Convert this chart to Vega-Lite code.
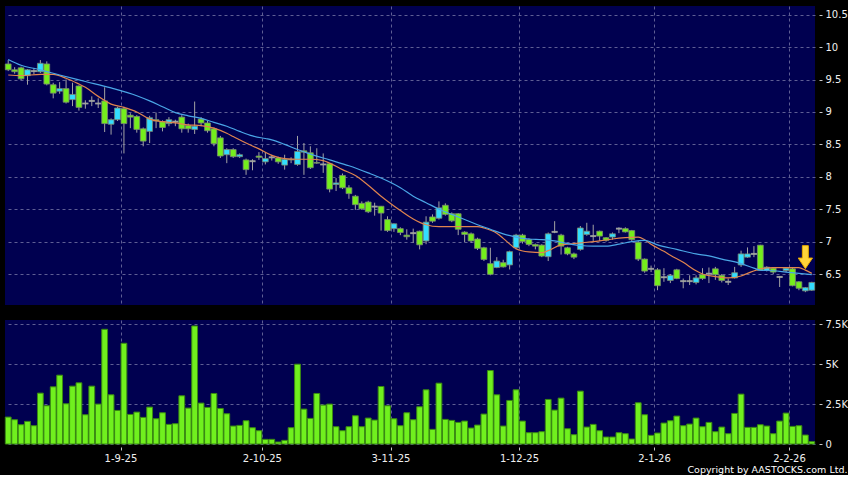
{
"$schema":"https://vega.github.io/schema/vega-lite/v6.json",
"background":"#000000",
"padding":{"left":4,"top":6,"right":0,"bottom":0},
"spacing":14,
"title":{"text":"Copyright by AASTOCKS.com Ltd.","orient":"bottom","anchor":"end","frame":"bounds","font":"DejaVu Sans","fontSize":9.5,"fontWeight":"normal","color":"#ffffff","offset":2},
"datasets":{
"k":[
{"d":"2025-08-06","o":9.74,"h":9.80,"l":9.63,"c":9.65,"v":1687},
{"d":"2025-08-07","o":9.65,"h":9.69,"l":9.59,"c":9.62,"v":1521},
{"d":"2025-08-08","o":9.68,"h":9.70,"l":9.49,"c":9.51,"v":1208},
{"d":"2025-08-11","o":9.56,"h":9.66,"l":9.42,"c":9.65,"v":1417},
{"d":"2025-08-12","o":9.63,"h":9.68,"l":9.58,"c":9.63,"v":1146},
{"d":"2025-08-13","o":9.62,"h":9.80,"l":9.60,"c":9.75,"v":3187},
{"d":"2025-08-14","o":9.74,"h":9.78,"l":9.41,"c":9.43,"v":2396},
{"d":"2025-08-15","o":9.42,"h":9.45,"l":9.21,"c":9.29,"v":3583},
{"d":"2025-08-18","o":9.32,"h":9.46,"l":9.28,"c":9.36,"v":4312},
{"d":"2025-08-19","o":9.36,"h":9.50,"l":9.13,"c":9.15,"v":2521},
{"d":"2025-08-20","o":9.19,"h":9.45,"l":9.09,"c":9.27,"v":3625},
{"d":"2025-08-21","o":9.40,"h":9.41,"l":9.02,"c":9.07,"v":3833},
{"d":"2025-08-22","o":9.13,"h":9.18,"l":9.05,"c":9.13,"v":1833},
{"d":"2025-08-25","o":9.17,"h":9.24,"l":9.09,"c":9.17,"v":3625},
{"d":"2025-08-26","o":9.13,"h":9.21,"l":9.06,"c":9.13,"v":2500},
{"d":"2025-08-27","o":9.17,"h":9.38,"l":8.69,"c":8.82,"v":7187},
{"d":"2025-08-28","o":8.81,"h":8.90,"l":8.65,"c":8.88,"v":3083},
{"d":"2025-08-29","o":8.88,"h":9.08,"l":8.86,"c":9.06,"v":2104},
{"d":"2025-09-01","o":9.05,"h":9.08,"l":8.36,"c":8.82,"v":6312},
{"d":"2025-09-02","o":8.95,"h":8.98,"l":8.75,"c":8.92,"v":1854},
{"d":"2025-09-03","o":8.93,"h":8.95,"l":8.68,"c":8.73,"v":2000},
{"d":"2025-09-04","o":8.74,"h":8.76,"l":8.47,"c":8.55,"v":1667},
{"d":"2025-09-05","o":8.70,"h":8.94,"l":8.52,"c":8.91,"v":2312},
{"d":"2025-09-08","o":8.88,"h":8.99,"l":8.75,"c":8.86,"v":1583},
{"d":"2025-09-09","o":8.85,"h":8.87,"l":8.70,"c":8.76,"v":1958},
{"d":"2025-09-10","o":8.82,"h":8.92,"l":8.78,"c":8.88,"v":1229},
{"d":"2025-09-11","o":8.85,"h":8.88,"l":8.78,"c":8.85,"v":1271},
{"d":"2025-09-12","o":8.92,"h":8.95,"l":8.68,"c":8.74,"v":3021},
{"d":"2025-09-15","o":8.79,"h":8.82,"l":8.68,"c":8.74,"v":2250},
{"d":"2025-09-16","o":8.73,"h":9.16,"l":8.66,"c":8.78,"v":7396},
{"d":"2025-09-17","o":8.89,"h":8.92,"l":8.78,"c":8.83,"v":2562},
{"d":"2025-09-18","o":8.83,"h":8.86,"l":8.68,"c":8.71,"v":2292},
{"d":"2025-09-19","o":8.74,"h":8.76,"l":8.47,"c":8.51,"v":3167},
{"d":"2025-09-22","o":8.60,"h":8.63,"l":8.29,"c":8.32,"v":2229},
{"d":"2025-09-23","o":8.34,"h":8.44,"l":8.21,"c":8.42,"v":1896},
{"d":"2025-09-24","o":8.42,"h":8.44,"l":8.29,"c":8.31,"v":1125},
{"d":"2025-09-25","o":8.31,"h":8.36,"l":8.29,"c":8.34,"v":1167},
{"d":"2025-09-26","o":8.26,"h":8.28,"l":8.03,"c":8.11,"v":1458},
{"d":"2025-09-29","o":8.24,"h":8.27,"l":8.10,"c":8.24,"v":1021},
{"d":"2025-09-30","o":8.32,"h":8.38,"l":8.26,"c":8.30,"v":833},
{"d":"2025-10-02","o":8.23,"h":8.38,"l":8.19,"c":8.28,"v":292},
{"d":"2025-10-03","o":8.30,"h":8.34,"l":8.25,"c":8.30,"v":292},
{"d":"2025-10-06","o":8.29,"h":8.31,"l":8.20,"c":8.23,"v":125},
{"d":"2025-10-08","o":8.18,"h":8.34,"l":8.11,"c":8.27,"v":229},
{"d":"2025-10-09","o":8.27,"h":8.30,"l":8.21,"c":8.26,"v":1021},
{"d":"2025-10-10","o":8.19,"h":8.63,"l":8.17,"c":8.39,"v":5000},
{"d":"2025-10-13","o":8.40,"h":8.52,"l":8.03,"c":8.38,"v":2187},
{"d":"2025-10-14","o":8.37,"h":8.47,"l":8.12,"c":8.14,"v":1604},
{"d":"2025-10-15","o":8.22,"h":8.44,"l":8.20,"c":8.21,"v":3167},
{"d":"2025-10-16","o":8.19,"h":8.36,"l":8.06,"c":8.19,"v":2437},
{"d":"2025-10-17","o":8.20,"h":8.21,"l":7.76,"c":7.81,"v":2500},
{"d":"2025-10-20","o":7.88,"h":7.98,"l":7.78,"c":7.905,"v":1083},
{"d":"2025-10-21","o":8.02,"h":8.05,"l":7.81,"c":7.83,"v":833},
{"d":"2025-10-22","o":7.83,"h":7.87,"l":7.66,"c":7.74,"v":1083},
{"d":"2025-10-23","o":7.70,"h":7.72,"l":7.49,"c":7.57,"v":1771},
{"d":"2025-10-24","o":7.59,"h":7.62,"l":7.49,"c":7.505,"v":1083},
{"d":"2025-10-27","o":7.61,"h":7.63,"l":7.44,"c":7.46,"v":1625},
{"d":"2025-10-28","o":7.54,"h":7.60,"l":7.40,"c":7.54,"v":1500},
{"d":"2025-10-30","o":7.545,"h":7.55,"l":7.17,"c":7.44,"v":3604},
{"d":"2025-10-31","o":7.34,"h":7.39,"l":7.15,"c":7.17,"v":2396},
{"d":"2025-11-03","o":7.20,"h":7.28,"l":7.15,"c":7.275,"v":1583},
{"d":"2025-11-04","o":7.20,"h":7.22,"l":7.10,"c":7.14,"v":1146},
{"d":"2025-11-05","o":7.10,"h":7.19,"l":7.03,"c":7.075,"v":1958},
{"d":"2025-11-06","o":7.13,"h":7.20,"l":6.98,"c":7.13,"v":1521},
{"d":"2025-11-07","o":7.16,"h":7.17,"l":6.88,"c":6.95,"v":2333},
{"d":"2025-11-10","o":7.01,"h":7.39,"l":6.96,"c":7.30,"v":3396},
{"d":"2025-11-11","o":7.38,"h":7.42,"l":7.29,"c":7.315,"v":917},
{"d":"2025-11-12","o":7.36,"h":7.62,"l":7.34,"c":7.52,"v":3812},
{"d":"2025-11-13","o":7.56,"h":7.59,"l":7.40,"c":7.42,"v":1542},
{"d":"2025-11-14","o":7.43,"h":7.45,"l":7.30,"c":7.32,"v":1479},
{"d":"2025-11-17","o":7.43,"h":7.44,"l":7.10,"c":7.19,"v":1354},
{"d":"2025-11-18","o":7.146,"h":7.16,"l":6.99,"c":7.11,"v":1437},
{"d":"2025-11-19","o":7.12,"h":7.14,"l":6.98,"c":7.01,"v":1000},
{"d":"2025-11-20","o":7.04,"h":7.06,"l":6.87,"c":6.895,"v":1187},
{"d":"2025-11-21","o":6.905,"h":6.92,"l":6.70,"c":6.725,"v":1875},
{"d":"2025-11-24","o":6.66,"h":6.905,"l":6.48,"c":6.495,"v":4604},
{"d":"2025-11-25","o":6.60,"h":6.76,"l":6.59,"c":6.70,"v":3083},
{"d":"2025-11-26","o":6.675,"h":6.72,"l":6.60,"c":6.61,"v":1125},
{"d":"2025-11-27","o":6.64,"h":6.86,"l":6.57,"c":6.845,"v":2729},
{"d":"2025-11-28","o":6.905,"h":7.12,"l":6.88,"c":7.10,"v":3396},
{"d":"2025-12-01","o":7.10,"h":7.12,"l":6.97,"c":7.00,"v":1437},
{"d":"2025-12-02","o":7.033,"h":7.05,"l":6.93,"c":6.956,"v":708},
{"d":"2025-12-03","o":6.956,"h":6.97,"l":6.88,"c":6.93,"v":708},
{"d":"2025-12-04","o":6.946,"h":6.96,"l":6.76,"c":6.777,"v":771},
{"d":"2025-12-05","o":6.767,"h":7.14,"l":6.70,"c":7.12,"v":2792},
{"d":"2025-12-08","o":7.15,"h":7.315,"l":7.13,"c":7.15,"v":2125},
{"d":"2025-12-09","o":7.10,"h":7.12,"l":6.80,"c":6.93,"v":2875},
{"d":"2025-12-10","o":6.905,"h":6.92,"l":6.79,"c":6.81,"v":958},
{"d":"2025-12-11","o":6.81,"h":6.83,"l":6.73,"c":6.76,"v":583},
{"d":"2025-12-12","o":6.88,"h":7.24,"l":6.86,"c":7.21,"v":3312},
{"d":"2025-12-15","o":7.11,"h":7.29,"l":7.09,"c":7.16,"v":1062},
{"d":"2025-12-16","o":7.085,"h":7.26,"l":7.01,"c":7.085,"v":1229},
{"d":"2025-12-17","o":7.16,"h":7.17,"l":7.01,"c":7.085,"v":833},
{"d":"2025-12-18","o":7.06,"h":7.07,"l":7.00,"c":7.02,"v":437},
{"d":"2025-12-19","o":7.07,"h":7.14,"l":7.03,"c":7.12,"v":437},
{"d":"2025-12-22","o":7.20,"h":7.22,"l":7.13,"c":7.20,"v":708},
{"d":"2025-12-23","o":7.20,"h":7.22,"l":7.14,"c":7.15,"v":646},
{"d":"2025-12-24","o":7.17,"h":7.18,"l":7.00,"c":7.03,"v":312},
{"d":"2025-12-29","o":6.99,"h":7.01,"l":6.70,"c":6.73,"v":2583},
{"d":"2025-12-30","o":6.73,"h":6.74,"l":6.52,"c":6.545,"v":1833},
{"d":"2025-12-31","o":6.58,"h":6.63,"l":6.53,"c":6.58,"v":542},
{"d":"2026-01-02","o":6.565,"h":6.59,"l":6.25,"c":6.32,"v":687},
{"d":"2026-01-05","o":6.45,"h":6.59,"l":6.38,"c":6.45,"v":1312},
{"d":"2026-01-06","o":6.40,"h":6.50,"l":6.36,"c":6.48,"v":1458},
{"d":"2026-01-07","o":6.565,"h":6.58,"l":6.42,"c":6.43,"v":1750},
{"d":"2026-01-08","o":6.39,"h":6.43,"l":6.28,"c":6.39,"v":1146},
{"d":"2026-01-09","o":6.39,"h":6.48,"l":6.33,"c":6.39,"v":1250},
{"d":"2026-01-12","o":6.37,"h":6.48,"l":6.34,"c":6.44,"v":1625},
{"d":"2026-01-13","o":6.49,"h":6.59,"l":6.41,"c":6.43,"v":1083},
{"d":"2026-01-14","o":6.505,"h":6.60,"l":6.36,"c":6.505,"v":1354},
{"d":"2026-01-15","o":6.58,"h":6.61,"l":6.41,"c":6.49,"v":771},
{"d":"2026-01-16","o":6.48,"h":6.50,"l":6.37,"c":6.40,"v":1062},
{"d":"2026-01-19","o":6.38,"h":6.43,"l":6.33,"c":6.38,"v":646},
{"d":"2026-01-20","o":6.44,"h":6.61,"l":6.43,"c":6.52,"v":1917},
{"d":"2026-01-21","o":6.64,"h":6.86,"l":6.61,"c":6.81,"v":3125},
{"d":"2026-01-22","o":6.76,"h":6.91,"l":6.75,"c":6.81,"v":1042},
{"d":"2026-01-23","o":6.81,"h":6.93,"l":6.76,"c":6.81,"v":1042},
{"d":"2026-01-26","o":6.945,"h":6.95,"l":6.55,"c":6.555,"v":1208},
{"d":"2026-01-27","o":6.555,"h":6.62,"l":6.54,"c":6.605,"v":1125},
{"d":"2026-01-28","o":6.59,"h":6.60,"l":6.50,"c":6.53,"v":646},
{"d":"2026-01-29","o":6.455,"h":6.47,"l":6.30,"c":6.455,"v":1437},
{"d":"2026-01-30","o":6.555,"h":6.60,"l":6.53,"c":6.59,"v":1937},
{"d":"2026-02-02","o":6.58,"h":6.60,"l":6.31,"c":6.32,"v":1104},
{"d":"2026-02-03","o":6.38,"h":6.39,"l":6.25,"c":6.28,"v":1146},
{"d":"2026-02-04","o":6.24,"h":6.30,"l":6.22,"c":6.29,"v":562},
{"d":"2026-02-05","o":6.25,"h":6.38,"l":6.24,"c":6.37,"v":146}
],
"ma":[
{"d":"2025-08-06","s":"ma10","p":9.57},{"d":"2025-08-08","s":"ma10","p":9.56},{"d":"2025-08-13","s":"ma10","p":9.58},{"d":"2025-08-15","s":"ma10","p":9.58},{"d":"2025-08-19","s":"ma10","p":9.52},{"d":"2025-08-21","s":"ma10","p":9.43},{"d":"2025-08-22","s":"ma10","p":9.38},{"d":"2025-08-26","s":"ma10","p":9.24},{"d":"2025-08-28","s":"ma10","p":9.12},{"d":"2025-09-01","s":"ma10","p":9.07},{"d":"2025-09-03","s":"ma10","p":9.00},{"d":"2025-09-05","s":"ma10","p":8.89},{"d":"2025-09-09","s":"ma10","p":8.85},{"d":"2025-09-11","s":"ma10","p":8.83},{"d":"2025-09-15","s":"ma10","p":8.80},{"d":"2025-09-17","s":"ma10","p":8.79},{"d":"2025-09-19","s":"ma10","p":8.75},{"d":"2025-09-23","s":"ma10","p":8.67},{"d":"2025-09-24","s":"ma10","p":8.62},{"d":"2025-09-26","s":"ma10","p":8.52},{"d":"2025-09-30","s":"ma10","p":8.43},{"d":"2025-10-03","s":"ma10","p":8.33},{"d":"2025-10-08","s":"ma10","p":8.28},{"d":"2025-10-10","s":"ma10","p":8.27},{"d":"2025-10-14","s":"ma10","p":8.27},{"d":"2025-10-16","s":"ma10","p":8.25},{"d":"2025-10-17","s":"ma10","p":8.21},{"d":"2025-10-21","s":"ma10","p":8.11},{"d":"2025-10-23","s":"ma10","p":8.02},{"d":"2025-10-27","s":"ma10","p":7.87},{"d":"2025-10-30","s":"ma10","p":7.70},{"d":"2025-11-03","s":"ma10","p":7.55},{"d":"2025-11-04","s":"ma10","p":7.48},{"d":"2025-11-06","s":"ma10","p":7.35},{"d":"2025-11-10","s":"ma10","p":7.26},{"d":"2025-11-12","s":"ma10","p":7.23},{"d":"2025-11-14","s":"ma10","p":7.23},{"d":"2025-11-18","s":"ma10","p":7.23},{"d":"2025-11-20","s":"ma10","p":7.23},{"d":"2025-11-21","s":"ma10","p":7.21},{"d":"2025-11-25","s":"ma10","p":7.13},{"d":"2025-11-26","s":"ma10","p":7.05},{"d":"2025-11-28","s":"ma10","p":6.89},{"d":"2025-12-02","s":"ma10","p":6.84},{"d":"2025-12-04","s":"ma10","p":6.83},{"d":"2025-12-05","s":"ma10","p":6.86},{"d":"2025-12-09","s":"ma10","p":6.95},{"d":"2025-12-11","s":"ma10","p":6.97},{"d":"2025-12-15","s":"ma10","p":6.99},{"d":"2025-12-17","s":"ma10","p":7.01},{"d":"2025-12-19","s":"ma10","p":7.04},{"d":"2025-12-23","s":"ma10","p":7.06},{"d":"2025-12-29","s":"ma10","p":7.07},{"d":"2025-12-30","s":"ma10","p":7.03},{"d":"2025-12-31","s":"ma10","p":6.96},{"d":"2026-01-05","s":"ma10","p":6.85},{"d":"2026-01-06","s":"ma10","p":6.79},{"d":"2026-01-08","s":"ma10","p":6.68},{"d":"2026-01-12","s":"ma10","p":6.55},{"d":"2026-01-13","s":"ma10","p":6.50},{"d":"2026-01-15","s":"ma10","p":6.46},{"d":"2026-01-19","s":"ma10","p":6.44},{"d":"2026-01-21","s":"ma10","p":6.47},{"d":"2026-01-22","s":"ma10","p":6.51},{"d":"2026-01-26","s":"ma10","p":6.58},{"d":"2026-01-28","s":"ma10","p":6.60},{"d":"2026-01-30","s":"ma10","p":6.60},{"d":"2026-02-03","s":"ma10","p":6.60},{"d":"2026-02-04","s":"ma10","p":6.56},{"d":"2026-02-05","s":"ma10","p":6.51},
{"d":"2025-08-06","s":"ma20","p":9.81},{"d":"2025-08-08","s":"ma20","p":9.72},{"d":"2025-08-13","s":"ma20","p":9.65},{"d":"2025-08-18","s":"ma20","p":9.57},{"d":"2025-08-22","s":"ma20","p":9.47},{"d":"2025-08-28","s":"ma20","p":9.37},{"d":"2025-09-03","s":"ma20","p":9.25},{"d":"2025-09-05","s":"ma20","p":9.17},{"d":"2025-09-09","s":"ma20","p":9.08},{"d":"2025-09-11","s":"ma20","p":8.99},{"d":"2025-09-15","s":"ma20","p":8.94},{"d":"2025-09-17","s":"ma20","p":8.90},{"d":"2025-09-19","s":"ma20","p":8.84},{"d":"2025-09-23","s":"ma20","p":8.78},{"d":"2025-09-25","s":"ma20","p":8.70},{"d":"2025-09-29","s":"ma20","p":8.63},{"d":"2025-10-02","s":"ma20","p":8.59},{"d":"2025-10-03","s":"ma20","p":8.57},{"d":"2025-10-08","s":"ma20","p":8.50},{"d":"2025-10-10","s":"ma20","p":8.42},{"d":"2025-10-14","s":"ma20","p":8.35},{"d":"2025-10-17","s":"ma20","p":8.26},{"d":"2025-10-22","s":"ma20","p":8.17},{"d":"2025-10-27","s":"ma20","p":8.06},{"d":"2025-10-30","s":"ma20","p":7.98},{"d":"2025-11-04","s":"ma20","p":7.83},{"d":"2025-11-06","s":"ma20","p":7.70},{"d":"2025-11-10","s":"ma20","p":7.60},{"d":"2025-11-12","s":"ma20","p":7.50},{"d":"2025-11-14","s":"ma20","p":7.42},{"d":"2025-11-18","s":"ma20","p":7.34},{"d":"2025-11-20","s":"ma20","p":7.26},{"d":"2025-11-24","s":"ma20","p":7.19},{"d":"2025-11-26","s":"ma20","p":7.12},{"d":"2025-11-28","s":"ma20","p":7.07},{"d":"2025-12-02","s":"ma20","p":7.04},{"d":"2025-12-04","s":"ma20","p":7.03},{"d":"2025-12-08","s":"ma20","p":7.01},{"d":"2025-12-10","s":"ma20","p":6.97},{"d":"2025-12-12","s":"ma20","p":6.94},{"d":"2025-12-16","s":"ma20","p":6.93},{"d":"2025-12-18","s":"ma20","p":6.93},{"d":"2025-12-22","s":"ma20","p":6.96},{"d":"2025-12-24","s":"ma20","p":7.00},{"d":"2025-12-30","s":"ma20","p":7.02},{"d":"2026-01-02","s":"ma20","p":6.95},{"d":"2026-01-07","s":"ma20","p":6.88},{"d":"2026-01-12","s":"ma20","p":6.81},{"d":"2026-01-14","s":"ma20","p":6.78},{"d":"2026-01-16","s":"ma20","p":6.73},{"d":"2026-01-21","s":"ma20","p":6.66},{"d":"2026-01-23","s":"ma20","p":6.59},{"d":"2026-01-26","s":"ma20","p":6.56},{"d":"2026-01-28","s":"ma20","p":6.55},{"d":"2026-01-30","s":"ma20","p":6.53},{"d":"2026-02-03","s":"ma20","p":6.51},{"d":"2026-02-05","s":"ma20","p":6.49}
],
"arrow":[{"d":"2026-02-04","p":6.76}]
},
"vconcat":[
{
"width":810,"height":299,
"encoding":{"x":{"field":"d","type":"ordinal","scale":{"type":"band","paddingInner":0.1,"paddingOuter":0.05},
 "axis":{"values":["2025-09-01","2025-10-02","2025-11-03","2025-12-01","2026-01-02","2026-02-02"],"bandPosition":0,"labels":false,"ticks":false,"grid":true,"domain":false,"title":null}}},
"layer":[
{"data":{"name":"k"},"mark":{"type":"rule","color":"#a4a4a4","strokeWidth":1},
 "encoding":{"y":{"field":"l","type":"quantitative","scale":{"domain":[6.022,10.634],"nice":false,"zero":false},
   "axis":{"orient":"right","values":[6.5,7,7.5,8,8.5,9,9.5,10,10.5],"grid":true,"offset":4,"tickSize":3,"labelPadding":3,"domain":false,"title":null,"labelExpr":"'' + datum.value"}},
  "y2":{"field":"h"}}},
{"data":{"name":"k"},"mark":{"type":"bar","stroke":"#7a8a70","strokeWidth":0.8},
 "encoding":{"y":{"field":"o","type":"quantitative","scale":{"domain":[6.022,10.634],"nice":false,"zero":false},
   "axis":{"orient":"right","values":[6.5,7,7.5,8,8.5,9,9.5,10,10.5],"grid":true,"offset":4,"tickSize":3,"labelPadding":3,"domain":false,"title":null,"labelExpr":"'' + datum.value"}},
  "y2":{"field":"c"},
  "color":{"condition":[{"test":"datum.c > datum.o","value":"#33ddff"},{"test":"datum.c < datum.o","value":"#74ee1c"}],"value":"#a8a8a8"}}},
{"data":{"name":"k"},"transform":[{"filter":"datum.o == datum.c"}],"mark":{"type":"tick","color":"#b0b0b0","thickness":2,"size":6},
 "encoding":{"y":{"field":"c","type":"quantitative","scale":{"domain":[6.022,10.634],"nice":false,"zero":false},
   "axis":{"orient":"right","values":[6.5,7,7.5,8,8.5,9,9.5,10,10.5],"grid":true,"offset":4,"tickSize":3,"labelPadding":3,"domain":false,"title":null,"labelExpr":"'' + datum.value"}}}},
{"data":{"name":"ma"},"mark":{"type":"line","strokeWidth":1.2,"interpolate":"monotone"},
 "encoding":{"y":{"field":"p","type":"quantitative","scale":{"domain":[6.022,10.634],"nice":false,"zero":false},
   "axis":{"orient":"right","values":[6.5,7,7.5,8,8.5,9,9.5,10,10.5],"grid":true,"offset":4,"tickSize":3,"labelPadding":3,"domain":false,"title":null,"labelExpr":"'' + datum.value"}},
  "color":{"field":"s","type":"nominal","scale":{"domain":["ma10","ma20"],"range":["#e0844e","#4aa6e6"]},"legend":null}}},
{"data":{"name":"arrow"},"mark":{"type":"point","filled":true,"shape":"M -0.26 -1 L 0.26 -1 L 0.26 0.08 L 0.62 0.08 L 0 1 L -0.62 0.08 L -0.26 0.08 Z","size":529,"color":"#ffd43a","stroke":"#e6a800","strokeWidth":1,"opacity":1},
 "encoding":{"y":{"field":"p","type":"quantitative","scale":{"domain":[6.022,10.634],"nice":false,"zero":false},
   "axis":{"orient":"right","values":[6.5,7,7.5,8,8.5,9,9.5,10,10.5],"grid":true,"offset":4,"tickSize":3,"labelPadding":3,"domain":false,"title":null,"labelExpr":"'' + datum.value"}}}}
]
},
{
"width":810,"height":124,
"data":{"name":"k"},
"mark":{"type":"bar","color":"#70f01e","stroke":"#3a8a12","strokeWidth":1},
"encoding":{
 "x":{"field":"d","type":"ordinal","scale":{"type":"band","paddingInner":0.1,"paddingOuter":0.05},
  "axis":{"values":["2025-09-01","2025-10-02","2025-11-03","2025-12-01","2026-01-02","2026-02-02"],"bandPosition":0,"grid":true,"ticks":true,"tickSize":3,"offset":3,"labelPadding":3,"labelOffset":-3,"labelAngle":0,"domain":false,"title":null,
   "labelExpr":"toNumber(slice(datum.value,8,10)) + '-' + toNumber(slice(datum.value,5,7)) + '-' + slice(datum.value,2,4)"}},
 "y":{"field":"v","type":"quantitative","scale":{"domain":[0,7770],"nice":false},
  "axis":{"orient":"right","values":[0,2500,5000,7500],"grid":true,"offset":4,"tickSize":3,"labelPadding":3,"domain":false,"title":null,
   "labelExpr":"datum.value == 0 ? '0' : (datum.value/1000) + 'K'"}}
}
}
],
"config":{
 "view":{"fill":"#000050","stroke":null},
 "axis":{"gridColor":"#5e5e94","gridDash":[3,3],"gridWidth":1,"labelColor":"#f0f0f0","labelFont":"DejaVu Sans","labelFontSize":10,"tickColor":"#c8c8c8"}
}
}
